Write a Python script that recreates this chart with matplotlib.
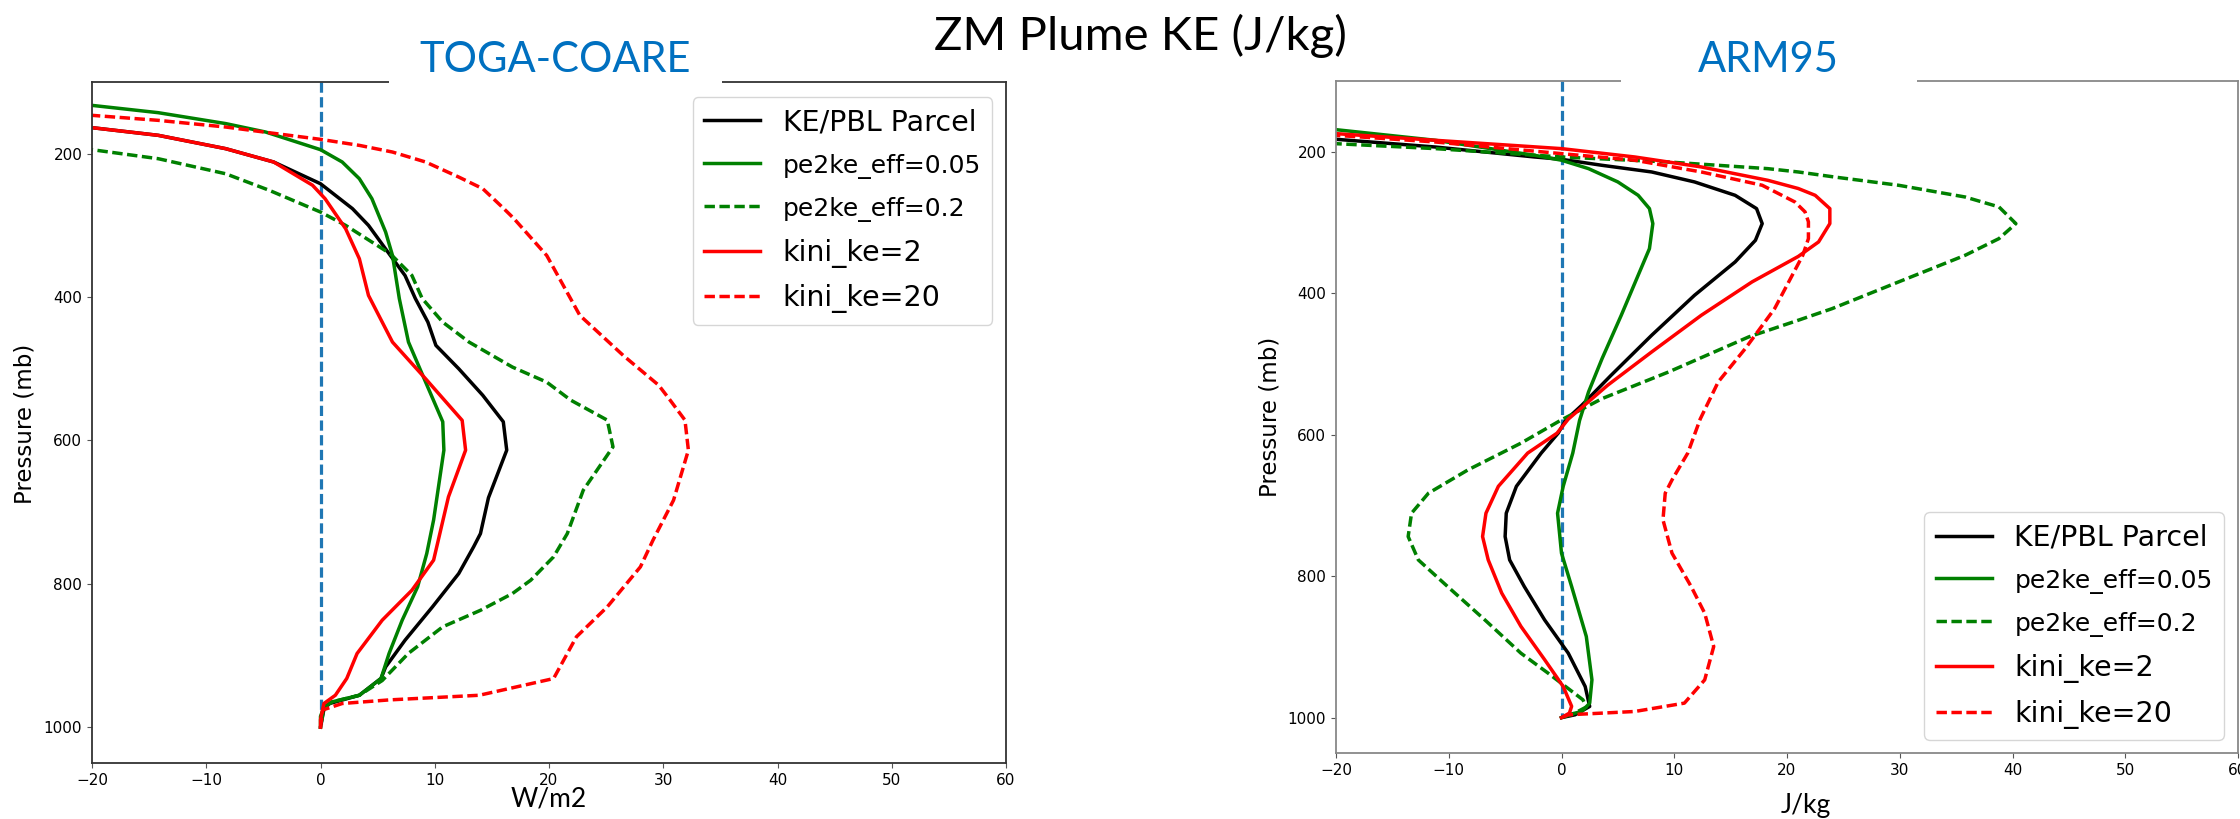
import matplotlib
matplotlib.use("Agg")
import matplotlib.pyplot as plt
from matplotlib.patches import Rectangle

W, H = 2240, 819

# ---------------- data: TOGA-COARE (left) ----------------
toga_ke_p = [157, 163.7, 174.4, 193, 211.6, 241.9, 276.7, 300, 339.5, 370, 402, 435, 467.4, 500, 537, 574,
             613.6, 680, 730, 748.5, 785.7, 832.2, 878.7, 916, 932, 955.5, 967, 975, 1000]
toga_ke_x = [-23.6, -20, -14.2, -8.3, -4.1, 0, 2.8, 4.2, 6.0, 7.4, 8.3, 9.4, 10.1, 12.1, 14.2, 16.0,
             16.3, 14.7, 14.0, 13.4, 12.1, 9.8, 7.4, 5.7, 5.3, 3.4, 0.8, 0.3, 0]

toga_eff05_p = [125, 132.6, 142.8, 158, 169.8, 194.4, 211.6, 234.9, 262.8, 309.3, 341.9, 402.3, 462.8, 518.6,
                574, 613.6, 711, 757.8, 804.3, 850.8, 897.3, 932, 955.5, 964.8, 972, 985, 1000]
toga_eff05_x = [-24.3, -20, -14.2, -8.3, -4.8, 0, 1.9, 3.4, 4.5, 5.7, 6.3, 6.9, 7.7, 9.2,
                10.7, 10.8, 9.9, 9.3, 8.5, 7.15, 6.0, 5.3, 3.4, 1.0, 0.3, 0, 0]

toga_eff2_p = [184, 194.4, 207, 228, 251, 281.4, 300, 339.5, 369.8, 402, 435, 462.8, 497.7, 518.7, 543.8,
               571.7, 609, 669.4, 730, 762.4, 795, 813.6, 837, 860, 897, 930, 935, 955.5, 964.8, 972, 1000]
toga_eff2_x = [-24.7, -20, -14.2, -8.3, -4.5, 0, 2.2, 6.1, 8.0, 8.9, 10.7, 13.0, 16.8, 19.8, 21.9,
               25.1, 25.6, 23.0, 21.6, 20.4, 18.4, 16.8, 14.0, 10.7, 7.7, 5.7, 5.4, 3.4, 1.0, 0.3, 0]

toga_kini2_p = [155, 163.7, 174.4, 193, 211.6, 244, 262.8, 304.7, 346.5, 397.7, 416.3, 462.8, 514, 572,
                613.6, 678.7, 767, 809, 850.8, 897.3, 932, 955.5, 967, 990, 1000]
toga_kini2_x = [-24.5, -20, -14.2, -8.3, -4.1, -0.7, 0.4, 2.2, 3.4, 4.2, 4.8, 6.3, 9.2, 12.4,
                12.7, 11.2, 9.9, 8.0, 5.4, 3.2, 2.3, 1.3, 0.3, 0, 0]

toga_kini20_p = [140, 146.5, 153.5, 162.8, 172, 180, 188.4, 197.7, 211.6, 232.6, 248.8, 274.4, 290, 342,
                 425.6, 481.5, 523, 543.8, 571.7, 613.6, 683.4, 739.2, 776.4, 832.2, 874, 932.2, 955.5,
                 962, 967, 976, 1000]
toga_kini20_x = [-25.4, -20, -14.2, -8.3, -3.9, 0, 3.4, 6.3, 9.2, 12.1, 14.2, 15.9, 16.9, 19.8,
                 22.7, 26.5, 29.6, 30.6, 31.9, 32.2, 30.9, 29.1, 28.0, 25.1, 22.4, 20.4, 13.9,
                 6.0, 1.9, 0.2, 0]

# ---------------- data: ARM95 (right) ----------------
arm_ke_p = [178, 182.4, 193.3, 207.4, 210.7, 219.2, 228.6, 242.7, 261.6, 280.4, 301.6, 325.2, 355.8, 402.9,
            459.4, 516, 558.4, 579, 597.9, 626, 673, 711, 744, 777, 814.7, 861.8, 908.9, 956, 984.2, 996, 1000]
arm_ke_x = [-23.5, -20, -11.2, -2.4, 0, 3.6, 8.0, 11.8, 15.4, 17.3, 17.8, 17.2, 15.4, 11.8,
            8.0, 4.4, 1.8, 0.4, -0.3, -1.8, -4.0, -4.9, -5.0, -4.6, -3.3, -1.5, 0.6, 2.1, 2.5, 1.2, 0]

arm_eff05_p = [163, 168.8, 183.8, 205, 212, 223.9, 242.7, 261.6, 280.4, 301.6, 337, 374.6, 431.2, 492.4,
               539.5, 580, 626, 673, 711, 767.5, 814.7, 885.3, 946.6, 979.5, 991.3, 996, 1000]
arm_eff05_x = [-23.4, -20, -11.2, -2.4, 0, 2.4, 5.0, 6.8, 7.8, 8.1, 7.8, 6.8, 5.3, 3.6,
               2.4, 1.6, 1.0, 0.15, -0.35, 0, 0.9, 2.2, 2.7, 2.5, 1.8, 0.6, 0]

arm_eff2_p = [184, 188.6, 195.6, 207.4, 214.5, 223.9, 228.6, 235.7, 247.4, 264, 278, 301.6, 322.8, 346.4,
              384, 421.8, 438.2, 461.8, 511.3, 549, 579, 612, 649.8, 682.7, 711, 744, 777, 814.7, 861.8,
              908.9, 937, 974.8, 985, 995, 1000]
arm_eff2_x = [-25.7, -20, -11.2, 0, 9.5, 18.3, 21.0, 24.2, 29.9, 35.8, 38.8, 40.3, 38.8, 35.8,
              29.9, 24.0, 21.0, 16.6, 9.5, 3.6, 0, -3.6, -8.3, -11.8, -13.3, -13.6, -12.7, -10.1, -6.8,
              -3.6, -1.2, 1.9, 2.2, 1.0, 0]

arm_kini2_p = [170, 174.4, 183.8, 195.6, 207.4, 221.5, 240.4, 252, 261.6, 280.4, 301.6, 327.5, 348, 384,
               431.2, 483, 530, 578, 597.9, 626, 673, 711, 744, 777, 824, 871, 918, 956, 984, 993.6, 1000]
arm_kini2_x = [-24.1, -20, -11.2, 0, 6.5, 12.4, 18.3, 21.0, 22.5, 23.8, 23.8, 22.8, 21.0, 16.9,
               12.4, 8.0, 4.1, 0.6, -0.4, -3.0, -5.6, -6.7, -7.0, -6.5, -5.3, -3.6, -1.5, 0.15, 0.9, 0.7, 0]

arm_kini20_p = [172, 176.8, 186.2, 202.7, 212, 228.6, 247.4, 271, 285, 299, 322.8, 346.4, 421.8, 478.3,
                525.4, 578, 626, 664, 682.7, 720.4, 767.5, 814.7, 852.3, 899.5, 946.6, 979.5, 991.3, 996, 1000]
arm_kini20_x = [-24.5, -20, -11.2, 0, 6.5, 12.4, 17.8, 20.7, 21.6, 21.9, 21.9, 21.4, 18.9, 16.3,
                13.9, 12.3, 11.2, 9.8, 9.2, 9.0, 9.8, 11.5, 12.7, 13.5, 12.7, 10.9, 6.5, 0.6, 0]

zero_line_p = [100, 1000]
zero_line_x = [0, 0]

labels = ["KE/PBL Parcel", "pe2ke_eff=0.05", "pe2ke_eff=0.2", "kini_ke=2", "kini_ke=20"]
colors = ["black", "green", "green", "red", "red"]
styles = ["-", "-", "--", "-", "--"]
xticks = [-20, -10, 0, 10, 20, 30, 40, 50, 60]
yticks = [200, 400, 600, 800, 1000]

plt.rcParams['font.family'] = ['DejaVu Sans']
slide_font = ['Lato', 'DejaVu Sans']

fig = plt.figure(figsize=(W / 100, H / 100), dpi=100)


def px_axes(x0, x1, ytop, ybot):
    return fig.add_axes([x0 / W, 1 - ybot / H, (x1 - x0) / W, (ybot - ytop) / H])


def style_panel(ax, spine_color, legend_loc, anchor):
    ax.set_xlim(-20, 60)
    ax.set_ylim(1050, 100)
    ax.set_xticks(xticks)
    ax.set_yticks(yticks)
    ax.tick_params(labelsize=11, color='#555555', length=3.5)
    for s in ax.spines.values():
        s.set_color(spine_color)
        s.set_linewidth(1.3)
    leg = ax.legend(loc=legend_loc, bbox_to_anchor=anchor, borderaxespad=0,
                    fontsize=20.5, handlelength=1.96, handletextpad=0.8, labelspacing=0.59,
                    borderpad=0.4)
    for i, t in enumerate(leg.get_texts()):
        if i in (1, 2):
            t.set_fontsize(18)
    return leg


series_left = [(toga_ke_p, toga_ke_x), (toga_eff05_p, toga_eff05_x), (toga_eff2_p, toga_eff2_x),
               (toga_kini2_p, toga_kini2_x), (toga_kini20_p, toga_kini20_x)]
series_right = [(arm_ke_p, arm_ke_x), (arm_eff05_p, arm_eff05_x), (arm_eff2_p, arm_eff2_x),
                (arm_kini2_p, arm_kini2_x), (arm_kini20_p, arm_kini20_x)]

axL = px_axes(92, 1006, 82, 763)
axR = px_axes(1336, 2238, 81, 753)

for ax, series in ((axL, series_left), (axR, series_right)):
    ax.plot(zero_line_x, zero_line_p, color='#1f77b4', ls='--', lw=2.3, dashes=(3.2, 1.4), zorder=1)
    for (p, x), lab, c, st in zip(series, labels, colors, styles):
        kw = dict(dashes=(3.0, 1.3)) if st == '--' else {}
        ax.plot(x, p, color=c, ls=st, lw=2.5, label=lab, zorder=2, **kw)

style_panel(axL, '#333333', 'upper right', (0.985, 0.978))
style_panel(axR, '#888888', 'lower right', (0.9845, 0.0193))

# axis labels
fig.text(25 / W, 1 - 424 / H, "Pressure (mb)", rotation=90, ha='center', va='center', fontsize=16.5)
fig.text(1270 / W, 1 - 417 / H, "Pressure (mb)", rotation=90, ha='center', va='center', fontsize=16.5)
fig.text(549 / W, 1 - 807 / H, "W/m2", ha='center', va='baseline', fontsize=19, family=slide_font)
fig.text(1806 / W, 1 - 813 / H, "J/kg", ha='center', va='baseline', fontsize=19, family=slide_font)

# white boxes hiding the top spine behind panel titles
for (x0, x1, yc) in ((389, 722, 82), (1621, 1917, 81)):
    fig.patches.append(Rectangle((x0 / W, 1 - (yc + 6) / H), (x1 - x0) / W, 12 / H,
                                 transform=fig.transFigure, facecolor='white', edgecolor='none',
                                 zorder=10))

fig.text(555 / W, 1 - 72.5 / H, "TOGA-COARE", ha='center', va='baseline', fontsize=30,
         color='#0070C0', family=slide_font, zorder=11)
fig.text(1768 / W, 1 - 71.5 / H, "ARM95", ha='center', va='baseline', fontsize=30,
         color='#0070C0', family=slide_font, zorder=11)
fig.text(1140 / W, 1 - 50 / H, "ZM Plume KE (J/kg)", ha='center', va='baseline', fontsize=34,
         color='black', family=slide_font, zorder=11)

fig.savefig("out.png", dpi=100)
